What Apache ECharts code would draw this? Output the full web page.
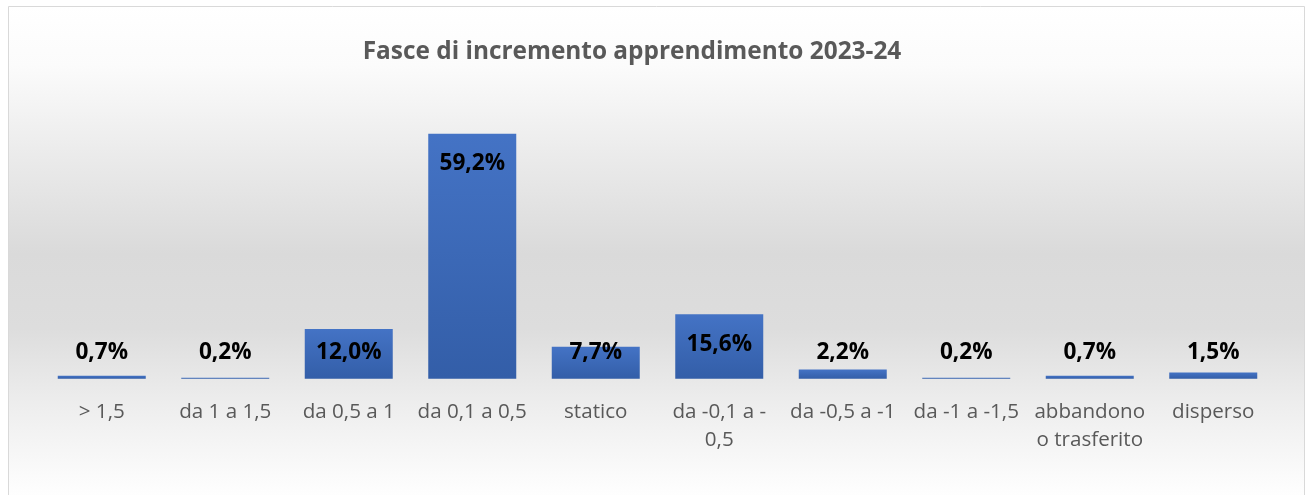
<!DOCTYPE html>
<html>
<head>
<meta charset="utf-8">
<script src="https://cdn.jsdelivr.net/npm/echarts@6/dist/echarts.min.js"></script>
<style>
html,body{margin:0;padding:0;background:#fff;}
#chart{width:1306px;height:495px;}
</style>
</head>
<body>
<div id="chart"></div>
<script>
const titleText = 'Fasce di incremento apprendimento 2023-24';
const categories = ['> 1,5', 'da 1 a 1,5', 'da 0,5 a 1', 'da 0,1 a 0,5', 'statico', 'da -0,1 a -\n0,5', 'da -0,5 a -1', 'da -1 a -1,5', 'abbandono\no trasferito', 'disperso'];
const values = [0.7, 0.2, 12.0, 59.2, 7.7, 15.6, 2.2, 0.2, 0.7, 1.5];
const yMin = 0, yMax = 70;

const FONT = 'Open Sans';
const chart = echarts.init(document.getElementById('chart'), null, {renderer: 'canvas'});

function fmt(v) { return v.toFixed(1).replace('.', ',') + '%'; }

const option = {
  animation: false,
  backgroundColor: '#ffffff',
  graphic: [{
    type: 'rect', z: -10, silent: true,
    shape: {x: 8.5, y: 6.5, width: 1296, height: 495},
    style: {
      fill: new echarts.graphic.LinearGradient(0, 0, 0, 1, [
        {offset: 0, color: '#ffffff'},
        {offset: 0.12, color: '#fbfbfb'},
        {offset: 0.3, color: '#ebebeb'},
        {offset: 0.5, color: '#dadada'},
        {offset: 0.65, color: '#dddddd'},
        {offset: 0.8, color: '#ededed'},
        {offset: 0.95, color: '#fbfbfb'},
        {offset: 1, color: '#ffffff'}
      ]),
      stroke: '#d9d9d9', lineWidth: 1
    }
  }],
  title: {
    text: titleText,
    left: 627, top: 35, textAlign: 'center',
    textStyle: {fontFamily: FONT, fontWeight: 'bold', fontSize: 24.4, color: '#595959'}
  },
  grid: {left: 40, right: 31, top: 89, bottom: 116.3, containLabel: false},
  xAxis: {
    type: 'category', data: categories,
    axisLine: {show: false}, axisTick: {show: false},
    axisLabel: {interval: 0, margin: 19, fontFamily: FONT, fontSize: 20.6, color: '#595959', lineHeight: 28}
  },
  yAxis: {type: 'value', min: yMin, max: yMax, show: false, splitLine: {show: false}},
  series: [{
    type: 'bar', barWidth: 88,
    data: values,
    itemStyle: {
      color: new echarts.graphic.LinearGradient(0, 0, 0, 1, [
        {offset: 0, color: '#4473c5'},
        {offset: 1, color: '#335ea8'}
      ])
    },
    label: {
      show: true, position: 'top', distance: 0, verticalAlign: 'middle',
      formatter: p => fmt(p.value),
      fontFamily: FONT, fontWeight: 'bold', fontSize: 22.6, color: '#000000'
    }
  }]
};
chart.setOption(option);

const base = chart.convertToPixel({yAxisIndex: 0}, 0);
const data = values.map(v => {
  const top = chart.convertToPixel({yAxisIndex: 0}, v);
  const dy = Math.min(30, (base - 26) - top);
  return {value: v, label: {offset: [0, dy]}};
});
chart.setOption({series: [{data: data}]});
</script>
</body>
</html>
